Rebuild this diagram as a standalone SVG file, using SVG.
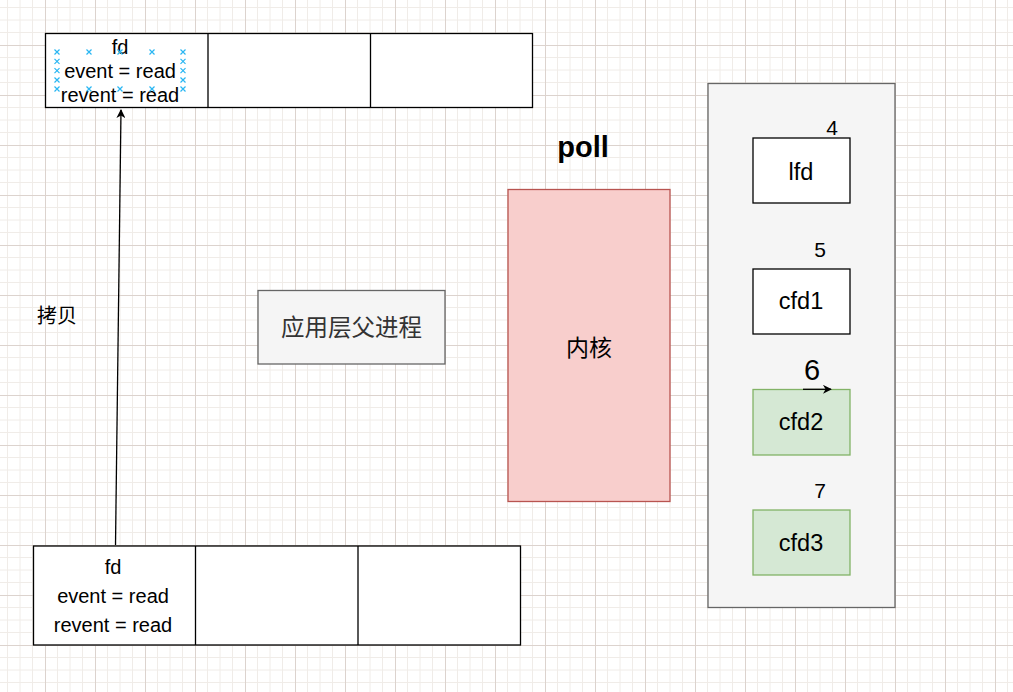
<svg xmlns="http://www.w3.org/2000/svg" width="1013" height="692" viewBox="0 0 1013 692">
<defs>
<pattern id="grid" patternUnits="userSpaceOnUse" x="45" y="45" width="50" height="50">
<path d="M12.5 0V50M25 0V50M37.5 0V50M0 12.5H50M0 25H50M0 37.5H50" stroke="#f0ece8" stroke-width="1" fill="none"/>
<path d="M0.5 0V50M0 0.5H50" stroke="#dcd3ce" stroke-width="1" fill="none"/>
</pattern>
<marker id="arr" viewBox="0 0 10 10" refX="9" refY="5" markerWidth="9" markerHeight="9" markerUnits="userSpaceOnUse" orient="auto">
<path d="M0 0L10 5L0 10L3 5Z" fill="#000"/>
</marker>
<path id="xm" d="M-2.5 -2.5L2.5 2.5M-2.5 2.5L2.5 -2.5" stroke="#29b6f2" stroke-width="1.2"/>
</defs>
<style>
text{font-family:"Liberation Sans",Arial,"Noto Sans CJK SC",sans-serif;fill:#000;text-anchor:middle}
.t20{font-size:20px}
.lbl{font-size:23.5px}
.num{font-size:21px}
.zh{font-family:"Noto Sans CJK SC","Liberation Sans",sans-serif}
.cell{fill:#fff;stroke:#000;stroke-width:1.3}
.grey{fill:#f5f5f5;stroke:#666;stroke-width:1.3}
.red{fill:#f8cecc;stroke:#b85450;stroke-width:1.3}
.green{fill:#d5e8d4;stroke:#82b366;stroke-width:1.3}
.wbox{fill:#fff;stroke:#000;stroke-width:1.3}
</style>
<rect width="1013" height="692" fill="#fff"/>
<rect width="1013" height="692" fill="url(#grid)"/>

<g id="top-table">
<rect class="cell" x="45.5" y="33.5" width="487" height="74"/>
<path d="M208 33.5V107.5M370.5 33.5V107.5" stroke="#000" stroke-width="1.3"/>
<text class="t20" x="120" y="54">fd</text>
<text class="t20" x="120" y="78">event = read</text>
<text class="t20" x="120" y="102">revent = read</text>
<g id="handles">
<use href="#xm" x="57" y="52"/><use href="#xm" x="89" y="52"/><use href="#xm" x="120" y="52"/><use href="#xm" x="152" y="52"/><use href="#xm" x="183" y="52"/>
<use href="#xm" x="57" y="61.3"/><use href="#xm" x="57" y="70.7"/><use href="#xm" x="57" y="80"/>
<use href="#xm" x="183" y="61.3"/><use href="#xm" x="183" y="70.7"/><use href="#xm" x="183" y="80"/>
<use href="#xm" x="57" y="89"/><use href="#xm" x="89" y="89"/><use href="#xm" x="120" y="89"/><use href="#xm" x="152" y="89"/><use href="#xm" x="183" y="89"/>
</g>
</g>

<g id="bottom-table">
<rect class="cell" x="33.5" y="546" width="487" height="99"/>
<path d="M195.5 546V645M358 546V645" stroke="#000" stroke-width="1.3"/>
<text class="t20" x="113" y="574">fd</text>
<text class="t20" x="113" y="603">event = read</text>
<text class="t20" x="113" y="632">revent = read</text>
</g>

<g id="copy-label">
<text class="zh" x="57" y="323" font-size="20">拷贝</text>
</g>

<g id="app-process">
<rect class="grey" x="258" y="290.5" width="187" height="73.5"/>
<text class="zh" x="351.5" y="336" font-size="23.5" style="fill:#333">应用层父进程</text>
</g>

<g id="poll-label">
<text x="583" y="157" font-size="29" font-weight="bold">poll</text>
</g>

<g id="kernel">
<rect class="red" x="508" y="189.5" width="162" height="312"/>
<text class="zh" x="589" y="356" font-size="23">内核</text>
</g>

<g id="fd-container">
<rect class="grey" x="708" y="83.5" width="187" height="524"/>
</g>

<g id="lfd">
<rect class="wbox" x="753" y="138" width="97" height="65"/>
<text class="lbl" x="801" y="179.5">lfd</text>
<text class="num" x="832" y="135">4</text>
</g>

<g id="cfd1">
<rect class="wbox" x="753" y="269" width="97" height="65"/>
<text class="lbl" x="801" y="309">cfd1</text>
<text class="num" x="820" y="257">5</text>
</g>

<g id="cfd2">
<rect class="green" x="753" y="389.5" width="97" height="65.5"/>
<text class="lbl" x="801" y="430">cfd2</text>
<text x="812" y="380" font-size="29">6</text>
</g>

<g id="cfd3">
<rect class="green" x="753" y="510" width="97" height="65"/>
<text class="lbl" x="801" y="551">cfd3</text>
<text class="num" x="820" y="498">7</text>
</g>

<g id="connectors" stroke="#000" stroke-width="1.3" fill="none">
<path d="M115.5 545L121 110" marker-end="url(#arr)"/>
<path d="M803 389.3H831" marker-end="url(#arr)"/>
</g>
</svg>
